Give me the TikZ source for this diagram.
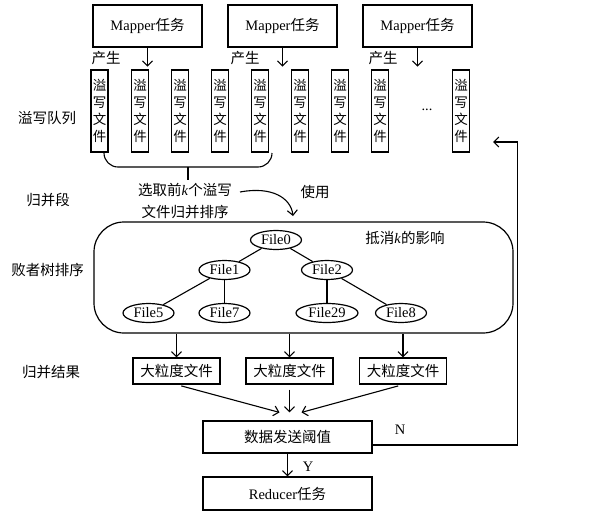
\documentclass[tikz,border=0pt]{standalone}
\usepackage{fontspec}
\setmainfont{Liberation Serif}
\newfontfamily\cjk{Noto Sans CJK SC}
\newcommand{\zh}[1]{{\cjk #1}}
\usepackage{tikz}
\usetikzlibrary{arrows.meta,calc,positioning,shapes.geometric}

\tikzset{
  every node/.style={font=\fontsize{14.5}{17}\selectfont},
  taskbox/.style={draw, line width=1.2pt, inner sep=0pt},
  spillbox/.style={draw, line width=1.2pt, inner sep=0pt, minimum width=17pt,
    minimum height=82pt, align=center, font=\fontsize{13.5}{17}\selectfont\cjk},
  treenode/.style={ellipse, draw, line width=1.2pt, inner sep=1pt,
    minimum width=51pt, minimum height=19pt},
  flow/.style={-{Straight Barb[length=5pt,width=10pt]}, line width=1.1pt},
  sidelabel/.style={font=\fontsize{14.5}{17}\selectfont\cjk}
}

\begin{document}
\begin{tikzpicture}[x=1pt,y=-1pt]
        \useasboundingbox (0,0) rectangle (602,512);
        % Mapper tasks
        \node[taskbox, minimum width=109pt, minimum height=42pt] (mapA) at (147.5,26) {Mapper\zh{任务}};
        \node[taskbox, minimum width=109pt, minimum height=42pt] (mapB) at (282.5,26) {Mapper\zh{任务}};
        \node[taskbox, minimum width=109pt, minimum height=42pt] (mapC) at (417.5,26) {Mapper\zh{任务}};
        \draw[flow] (mapA.south) -- ++(0,19);
        \draw[flow] (mapB.south) -- ++(0,19);
        \draw[flow] (mapC.south) -- ++(0,19);
        \node[sidelabel] (genA) at (106,58) {产生};
        \node[sidelabel] (genB) at (245,58) {产生};
        \node[sidelabel] (genC) at (383,58) {产生};

        % spill queue
        \node[sidelabel] (queue) at (47,118) {溢写队列};
        \node[spillbox] (spill1) at (99.5,111) {溢\\写\\文\\件};
        \node[spillbox] (spill2) at (140,111) {溢\\写\\文\\件};
        \node[spillbox] (spill3) at (180,111) {溢\\写\\文\\件};
        \node[spillbox] (spill4) at (220,111) {溢\\写\\文\\件};
        \node[spillbox] (spill5) at (260,111) {溢\\写\\文\\件};
        \node[spillbox] (spill6) at (300,111) {溢\\写\\文\\件};
        \node[spillbox] (spill7) at (340,111) {溢\\写\\文\\件};
        \node[spillbox] (spill8) at (380,111) {溢\\写\\文\\件};
        \node (dots) at (427,110) {...};
        \node[spillbox] (spill9) at (461,111) {溢\\写\\文\\件};

        % merge segment
        \draw[line width=1.1pt, rounded corners=14pt] (104,153) -- (104,167) -- (272,167) -- (272,153);
        \coordinate (braceMid) at (188,167);
        \draw[line width=1.1pt] (braceMid) -- ++(0,13);
        \node[sidelabel] (segment) at (48,200) {归并段};
        \node[font=\fontsize{14.5}{22}\selectfont, align=center] (select) at (185,201)
          {\zh{选取前}\textit{k}\zh{个溢写}\\\zh{文件归并排序}};
        \node[sidelabel] (use) at (315,192) {使用};
        \coordinate (useFrom) at (240,192);
        \coordinate (useTo) at (293,216);
        \draw[flow] (useFrom) .. controls (272,186) and (291,198) .. (useTo);

        % loser tree
        \node[draw, line width=1.2pt, rounded corners=30pt, minimum width=419pt, minimum height=111pt] (lt) at (303.5,277.5) {};
        \node[sidelabel] (ltlabel) at (47.5,270) {败者树排序};
        \node (cancel) at (405,238) {\zh{抵消}\textit{k}\zh{的影响}};
        \node[treenode] (f0) at (276,240) {File0};
        \node[treenode] (f1) at (224.5,270) {File1};
        \node[treenode] (f2) at (327,270) {File2};
        \node[treenode] (f5) at (148.5,313) {File5};
        \node[treenode] (f7) at (224.5,313) {File7};
        \node[treenode, minimum width=62pt] (f29) at (327,313) {File29};
        \node[treenode] (f8) at (401,313) {File8};
        \draw[line width=1.1pt] (f0) -- (f1);
        \draw[line width=1.1pt] (f0) -- (f2);
        \draw[line width=1.1pt] (f1) -- (f5);
        \draw[line width=1.1pt] (f1) -- (f7);
        \draw[line width=1.1pt] (f2) -- (f29);
        \draw[line width=1.1pt] (f2) -- (f8);

        % merge result
        \node[sidelabel] (result) at (51,372) {归并结果};
        \node[taskbox, minimum width=87pt, minimum height=26pt] (big1) at (176.5,371) {\zh{大粒度文件}};
        \node[taskbox, minimum width=87pt, minimum height=26pt] (big2) at (289.5,371) {\zh{大粒度文件}};
        \node[taskbox, minimum width=87pt, minimum height=26pt] (big3) at (403,371) {\zh{大粒度文件}};
        \draw[flow] (lt.south -| big1.north) -- (big1.north);
        \draw[flow] (lt.south -| big2.north) -- (big2.north);
        \draw[flow] (lt.south -| big3.north) -- (big3.north);

        % threshold and reducer
        \node[taskbox, minimum width=169pt, minimum height=32pt] (thresh) at (287.5,437) {\zh{数据发送阈值}};
        \node[taskbox, minimum width=169pt, minimum height=33pt] (reducer) at (287.5,493.5) {Reducer\zh{任务}};
        \draw[flow, shorten <=5pt] (big1.south) -- ([xshift=-8pt,yshift=8pt]thresh.north);
        \draw[flow, shorten <=5pt] (big2.south) -- ([yshift=8pt]thresh.north -| big2.south);
        \draw[flow, shorten <=5pt] (big3.south) -- ([xshift=14pt,yshift=8pt]thresh.north);
        \draw[flow] (thresh.south) -- (reducer.north);
        \node (yes) at (308,467) {Y};
        \node (no) at (400,430) {N};
        \coordinate (backIn) at (493,142);
        \draw[flow] ([yshift=-8pt]thresh.east) -- ++(145,0) |- (backIn);
      \end{tikzpicture}
\end{document}
